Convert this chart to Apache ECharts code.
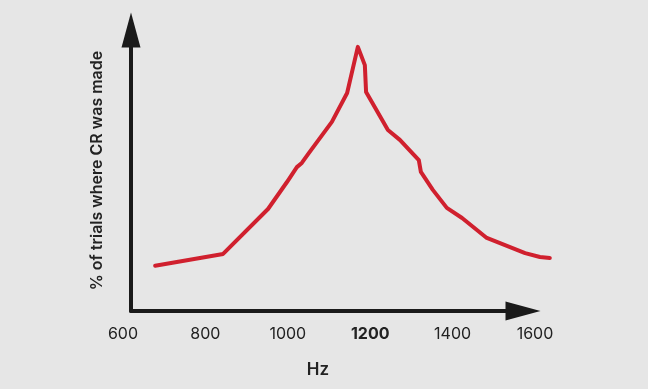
<!DOCTYPE html>
<html><head><meta charset="utf-8">
<script src="https://cdn.jsdelivr.net/npm/echarts@6/dist/echarts.min.js"></script>
<style>html,body{margin:0;padding:0;background:#e6e6e6;}#c{width:648px;height:389px;}</style>
</head><body><div id="c"></div>
<script>
// Frequencies (Hz) and response level (arbitrary % scale)
const freqHz = [678, 843, 952, 998, 1022, 1034, 1051, 1107, 1144, 1170, 1187, 1190, 1243, 1272, 1318, 1323, 1352, 1386, 1423, 1483, 1576, 1612, 1636];
const crPercent = [16.1, 20.3, 36.3, 45.9, 51.2, 52.7, 56.2, 67.3, 77.6, 94.0, 87.5, 77.9, 64.4, 60.9, 53.7, 49.5, 43.1, 36.7, 33.1, 26.0, 20.6, 19.2, 18.9];
const xTicks = [600, 800, 1000, 1200, 1400, 1600];
const boldTick = 1200;
const xName = 'Hz';
const yName = '% of trials where CR was made';

const X_MIN = 600, X_MAX = 1640;
const PX_PER_HZ = 0.412;
const FONT = 'Inter, "Noto Sans", sans-serif';
const chart = echarts.init(document.getElementById('c'), null, {renderer: 'canvas'});
chart.setOption({
  backgroundColor: '#e6e6e6',
  animation: false,
  title: {text: xName, left: 313, top: 356, textAlign: 'center',
    textStyle: {fontFamily: FONT, fontSize: 17, fontWeight: 600, color: '#222'}},
  grid: [
    {left: 123, right: 648 - (123 + (X_MAX - X_MIN) * PX_PER_HZ), top: 30, bottom: 389 - 311},
    {left: 131, right: 648 - 523, top: 30, bottom: 389 - 311}
  ],
  xAxis: [
    {gridIndex: 0, type: 'value', min: X_MIN, max: X_MAX, interval: 200,
     axisLine: {show: false}, axisTick: {show: false}, splitLine: {show: false},
     axisLabel: {margin: 15, fontFamily: FONT, fontSize: 16, color: '#222', showMaxLabel: false,
       formatter: v => xTicks.indexOf(v) < 0 ? '' : (v === boldTick ? '{b|' + v + '}' : String(v)),
       rich: {b: {fontFamily: FONT, fontSize: 16, fontWeight: 700, color: '#222'}}}},
    {gridIndex: 1, type: 'value', min: 0, max: 1,
     axisLine: {show: true, symbol: ['none', 'triangle'], symbolSize: [19, 35],
       lineStyle: {color: '#1a1a1a', width: 4}},
     axisTick: {show: false}, axisLabel: {show: false}, splitLine: {show: false}}
  ],
  yAxis: [
    {gridIndex: 0, type: 'value', min: 0, max: 100, show: false},
    {gridIndex: 1, type: 'value', min: 0, max: 1,
     name: yName, nameLocation: 'middle', nameGap: 26, nameRotate: 90,
     nameTextStyle: {fontFamily: FONT, fontSize: 16, fontWeight: 600, color: '#222'},
     axisLine: {show: true, symbol: ['none', 'triangle'], symbolSize: [19, 35],
       lineStyle: {color: '#1a1a1a', width: 4}},
     axisTick: {show: false}, axisLabel: {show: false}, splitLine: {show: false}}
  ],
  series: [{
    type: 'line', xAxisIndex: 0, yAxisIndex: 0, clip: false,
    data: freqHz.map((f, i) => [f, crPercent[i]]),
    showSymbol: false, smooth: false,
    lineStyle: {color: '#d0202e', width: 4, cap: 'round', join: 'round'}
  }]
});
</script></body></html>
